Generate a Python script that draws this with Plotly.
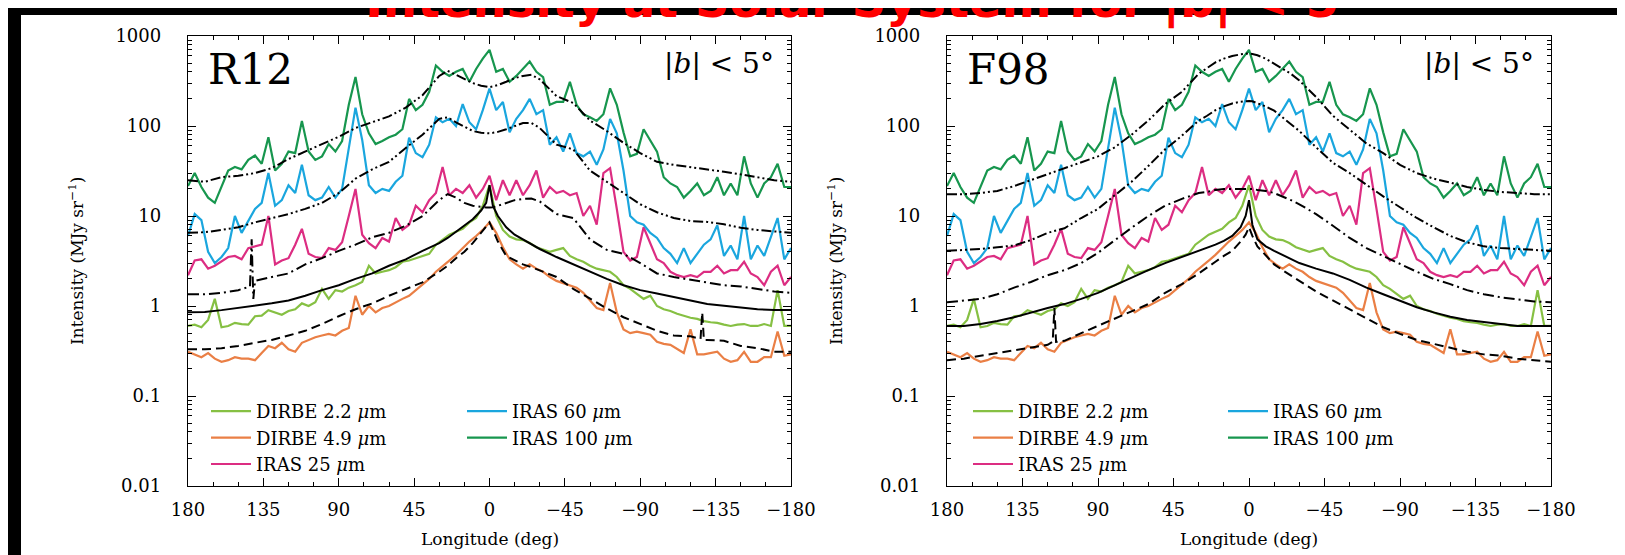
import plotly.graph_objects as go

# ---------------- data ----------------
LON = [180 - 4 * i for i in range(91)]  # galactic longitude grid of the observed profiles

DIRBE_22 = [0.6, 0.62, 0.58, 0.7, 1.2, 0.58, 0.6, 0.65, 0.63, 0.62,
            0.77, 0.78, 0.9, 0.85, 0.8, 0.88, 0.92, 1.07, 1.0, 1.1,
            1.55, 1.2, 1.5, 1.45, 1.6, 1.7, 1.85, 2.8, 2.3, 2.4,
            2.5, 2.7, 3.1, 3.2, 3.4, 3.6, 3.8, 4.8, 5.5, 6.2,
            6.7, 7.2, 8.5, 9.5, 13, 22,
            10, 7, 5.9, 5.5, 5.4, 5.0, 4.5, 4.2, 4.0, 4.2,
            4.4, 3.6, 3.3, 3.1, 2.8, 2.6, 2.5, 2.4, 2.1, 1.7,
            1.55, 1.35, 1.2, 1.3, 1.0, 0.92, 0.88, 0.82, 0.78, 0.74,
            0.72, 0.68, 0.66, 0.65, 0.62, 0.6, 0.62, 0.63, 0.6, 0.6,
            0.63, 0.6, 1.5, 0.6, 0.6]

DIRBE_49 = [0.31, 0.29, 0.27, 0.3, 0.26, 0.24, 0.25, 0.27, 0.26, 0.26,
            0.25, 0.3, 0.36, 0.34, 0.39, 0.33, 0.31, 0.39, 0.42, 0.45,
            0.47, 0.49, 0.47, 0.53, 0.57, 1.3, 0.8, 1.0, 0.85, 0.95,
            1.0, 1.1, 1.2, 1.3, 1.5, 1.7, 2.0, 2.4, 2.8, 3.2,
            3.7, 4.4, 5.2, 6.0, 7.0, 8.5,
            6.5, 4.5, 3.3, 2.9, 2.6, 2.9, 2.6, 2.4, 2.1, 1.9,
            1.8, 1.7, 1.6, 1.4, 1.15, 0.95, 0.9, 1.8, 0.85, 0.55,
            0.5, 0.52, 0.5, 0.48, 0.4, 0.38, 0.37, 0.33, 0.3, 0.55,
            0.29, 0.29, 0.3, 0.31, 0.26, 0.24, 0.25, 0.31, 0.24, 0.24,
            0.27, 0.27, 0.52, 0.28, 0.29]

IRAS_25 = [2.2, 3.2, 3.3, 2.6, 2.8, 3.1, 3.5, 3.6, 3.3, 4.4,
           4.6, 4.8, 10, 2.9, 3.2, 3.4, 4.8, 7.2, 3.8, 3.5,
           3.4, 4.4, 4.2, 5.1, 10, 20, 6.2, 5, 4.4, 5.7,
           5.2, 9.5, 7, 8, 13, 11, 15, 18, 35, 17,
           20, 18, 22, 16, 20, 28,
           15, 25, 17, 25, 17, 22, 32, 16, 21, 18,
           19, 17, 18, 10, 13, 8, 30, 34, 12, 4,
           3.2, 3.5, 7.5, 5, 3.3, 3.0, 2.4, 2.2, 2.1, 2.2,
           2.1, 2.4, 2.4, 2.8, 2.3, 2.5, 2.5, 3.1, 2.3, 2.1,
           1.7, 2.4, 2.8, 1.7, 2.1]

IRAS_60 = [6, 10.5, 9, 4, 3, 3.5, 4.4, 10, 6.5, 9,
           12, 14, 30, 13, 15, 22, 18, 37, 17, 15,
           16, 21, 16, 20, 60, 160, 70, 22, 18, 20,
           19, 24, 28, 74, 50, 45, 62, 125, 110, 120,
           100, 175, 110, 92, 150, 260,
           150, 185, 85, 120, 150, 200, 135, 150, 62, 75,
           52, 83, 50, 46, 52, 37, 55, 120, 83, 32,
           10, 8.5, 8, 6.5, 5.7, 4.4, 3.8, 3.0, 4.4, 3.0,
           3.8, 4.8, 5.5, 7.9, 3.6, 4.7, 3.3, 10, 3.3, 4.7,
           3.6, 6, 9.5, 3.3, 4.4]

IRAS_100 = [21.5, 30, 21, 16, 14, 21, 32, 35, 33, 42,
            47, 38, 75, 32, 38, 52, 50, 114, 52, 42,
            46, 63, 52, 68, 172, 350, 135, 83, 63, 68,
            75, 80, 92, 200, 150, 172, 240, 470, 400, 360,
            400, 430, 310, 430, 560, 700,
            400, 430, 310, 360, 430, 520, 400, 350, 172, 185,
            185, 310, 172, 135, 125, 114, 135, 262, 172, 85,
            46, 49, 92, 68, 52, 27, 23, 21, 16, 19,
            23, 17, 19, 27, 17, 23, 17, 46, 23, 16,
            23, 27, 38, 21, 21]

# model curves (black), sampled on their own longitude grid
MODEL_LON = [180, 170, 160, 150, 140, 130, 120, 110, 100, 90, 80, 70, 60, 50, 40,
             30, 25, 20, 15, 10, 5, 2, 0, -2, -5, -10, -15, -20, -25, -30,
             -40, -50, -60, -70, -80, -90, -100, -110, -120, -130, -140, -150, -160, -170, -180]

R12_M22 = [0.85, 0.86, 0.9, 0.95, 1.0, 1.07, 1.15, 1.3, 1.5, 1.7, 2.0, 2.3, 2.8, 3.3, 4.1,
           5.0, 5.7, 6.7, 7.8, 9.2, 11.5, 14, 22, 13, 10, 7.5, 6.2, 5.5, 4.8, 4.3,
           3.5, 2.9, 2.4, 2.0, 1.7, 1.5, 1.38, 1.25, 1.15, 1.05, 1.0, 0.95, 0.92, 0.9, 0.9]
R12_M49 = [0.33, 0.33, 0.34, 0.36, 0.39, 0.42, 0.47, 0.53, 0.63, 0.77, 0.92, 1.07, 1.3, 1.55, 1.83,
           2.4, 2.8, 3.4, 4.0, 5.0, 6.5, 7.5, 8.5, 7, 5.2, 3.6, 3.2, 2.9, 2.7, 2.5,
           2.1, 1.55, 1.2, 0.94, 0.75, 0.63, 0.53, 0.47, 0.46, 0.42, 0.41, 0.36, 0.34, 0.31, 0.31]
R12_M25 = [1.35, 1.35, 1.4, 1.5, 1.9, 2.1, 2.3, 2.9, 3.4, 4.1, 4.8, 5.8, 6.5, 7.8, 10,
           15, 17.5, 16, 14, 13, 12.5, 12.4, 12.4, 12.5, 13, 14, 15, 15.5, 15.6, 14.5,
           10.5, 9.5, 5.5, 4.2, 3.8, 3.0, 2.3, 2.1, 1.95, 1.83, 1.7, 1.65, 1.55, 1.45, 1.4]
R12_M60 = [6.5, 6.6, 7.0, 7.5, 8.5, 9.5, 10.5, 12, 14, 18, 26, 33, 40, 57, 80,
           120, 125, 110, 98, 88, 84, 83, 83, 84, 86, 92, 100, 108, 108, 95,
           62, 55, 32, 24, 18, 13.5, 11, 9.5, 8.8, 8.6, 8.1, 7.4, 7.0, 6.7, 6.5]
R12_M100 = [25, 24, 27, 28, 30, 34, 43, 52, 63, 76, 95, 110, 128, 160, 220,
            360, 410, 370, 330, 300, 280, 272, 270, 275, 285, 310, 340, 360, 370, 330,
            215, 180, 115, 88, 65, 50, 40, 37, 35, 33, 31, 29, 27, 25, 24]

F98_M22 = [0.6, 0.6, 0.63, 0.68, 0.75, 0.85, 0.95, 1.05, 1.2, 1.4, 1.7, 2.1, 2.5, 3.0, 3.5,
           4.1, 4.4, 4.8, 5.3, 6.0, 7.5, 10, 15, 8, 5.5, 4.6, 4.1, 3.7, 3.3, 3.0,
           2.6, 2.3, 1.95, 1.6, 1.35, 1.15, 0.97, 0.85, 0.76, 0.7, 0.66, 0.63, 0.6, 0.6, 0.6]
F98_M49 = [0.25, 0.26, 0.28, 0.3, 0.32, 0.34, 0.37, 0.41, 0.5, 0.6, 0.72, 0.86, 1.05, 1.4, 1.75,
           2.3, 2.7, 3.1, 3.6, 4.1, 5.2, 6.2, 7.5, 6, 4.6, 3.6, 2.9, 2.5, 2.2, 1.9,
           1.45, 1.15, 0.92, 0.72, 0.58, 0.49, 0.42, 0.38, 0.34, 0.31, 0.29, 0.28, 0.26, 0.25, 0.24]
F98_M25 = [1.1, 1.15, 1.2, 1.35, 1.6, 1.85, 2.2, 2.5, 3.0, 3.9, 5.4, 7.4, 10, 13, 15.5,
           18, 18.5, 19.5, 20, 20, 20, 20, 20, 20, 19.5, 19, 18, 16.5, 15, 13.5,
           10.5, 7.8, 5.7, 4.4, 3.6, 2.9, 2.4, 2.0, 1.75, 1.5, 1.35, 1.25, 1.18, 1.12, 1.1]
F98_M60 = [4.1, 4.2, 4.3, 4.5, 4.7, 5.4, 6.5, 7.3, 9.5, 12, 17, 24, 36, 55, 78,
           115, 130, 150, 165, 178, 186, 189, 190, 188, 180, 165, 148, 125, 105, 88,
           58, 39, 30, 22, 16.5, 12.5, 9.5, 7.5, 6, 5.1, 4.6, 4.4, 4.3, 4.2, 4.1]
F98_M100 = [17.5, 17.5, 18, 19, 21.5, 25, 29, 34, 40, 46, 58, 80, 115, 175, 240,
            380, 440, 510, 560, 600, 625, 635, 640, 630, 610, 560, 490, 430, 380, 320,
            210, 130, 92, 64, 50, 37, 30, 26, 23.5, 21, 19.5, 18.5, 18, 17.5, 17.5]

# narrow spikes present in some model curves (longitude, value)
R12_M25_SPIKE_LON = [143, 142, 141]
R12_M25_SPIKE_VAL = [1.65, 5.5, 1.2]
R12_M49_SPIKE_LON = [-126, -127, -128]
R12_M49_SPIKE_VAL = [0.43, 0.85, 0.42]
F98_M49_SPIKE_LON = [117, 116, 115]
F98_M49_SPIKE_VAL = [0.4, 0.95, 0.4]

SERIES_NAMES = ["DIRBE 2.2 <i>μ</i>m", "DIRBE 4.9 <i>μ</i>m", "IRAS 25 <i>μ</i>m",
                "IRAS 60 <i>μ</i>m", "IRAS 100 <i>μ</i>m"]
SERIES_DATA = [DIRBE_22, DIRBE_49, IRAS_25, IRAS_60, IRAS_100]
SERIES_COLORS = ["#86c043", "#ea7f45", "#dc2d82", "#1aa6de", "#17964e"]

XTICKS = [180, 135, 90, 45, 0, -45, -90, -135, -180]
XTICKTEXT = ["180", "135", "90", "45", "0", "−45", "−90", "−135", "−180"]
YTICKS = [0.01, 0.1, 1, 10, 100, 1000]
YTICKTEXT = ["0.01", "0.1", "1", "10", "100", "1000"]


def with_spike(lon, val, slon, sval):
    pts = sorted(zip(list(lon) + list(slon), list(val) + list(sval)), key=lambda p: -p[0])
    return [p[0] for p in pts], [p[1] for p in pts]


# --------------- figure ---------------
W, H = 1625, 555
SERIF = "DejaVu Serif"
DASH_49 = "9px,5px"
DASH_25 = "11px,4px,2px,4px"
DASH_60 = "10px,3px,2px,3px,2px,3px"

fig = go.Figure()

panels = [
    dict(xa="x", ya="y", leg=("legend", "legend2"), label="R12",
         models=[(R12_M22, "solid", None), (with_spike(MODEL_LON, R12_M49, R12_M49_SPIKE_LON, R12_M49_SPIKE_VAL), DASH_49, True),
                 (with_spike(MODEL_LON, R12_M25, R12_M25_SPIKE_LON, R12_M25_SPIKE_VAL), DASH_25, True),
                 (R12_M60, DASH_60, None), (R12_M100, DASH_60, None)]),
    dict(xa="x2", ya="y2", leg=("legend3", "legend4"), label="F98",
         models=[(F98_M22, "solid", None), (with_spike(MODEL_LON, F98_M49, F98_M49_SPIKE_LON, F98_M49_SPIKE_VAL), DASH_49, True),
                 (F98_M25, DASH_25, None), (F98_M60, DASH_60, None), (F98_M100, DASH_60, None)]),
]

for p in panels:
    for k, (name, vals, col) in enumerate(zip(SERIES_NAMES, SERIES_DATA, SERIES_COLORS)):
        fig.add_trace(go.Scatter(
            x=LON, y=vals, mode="lines", name=name,
            line=dict(color=col, width=2.2),
            xaxis=p["xa"], yaxis=p["ya"],
            legend=p["leg"][0] if k < 3 else p["leg"][1],
            showlegend=True, hoverinfo="skip"))
    for m, dash, spiked in p["models"]:
        if spiked:
            xs, ys = m
        else:
            xs, ys = MODEL_LON, m
        fig.add_trace(go.Scatter(
            x=xs, y=ys, mode="lines", showlegend=False,
            line=dict(color="black", width=2.0, dash=dash),
            xaxis=p["xa"], yaxis=p["ya"], hoverinfo="skip"))

xminor = [v for v in range(-165, 180, 15) if v % 45 != 0]
yminor = [k * 10 ** e for e in range(-2, 3) for k in range(2, 10)]

px_l = [(180, 783), (939, 1543)]
top_px, bot_px = 28, 478
ydom = [(H - bot_px) / H, (H - top_px) / H]

for i, (x0, x1) in enumerate(px_l):
    sfx = "" if i == 0 else "2"
    fig.update_layout(**{
        "xaxis" + sfx: dict(
            domain=[x0 / W, x1 / W], range=[180, -180], anchor="y" + sfx,
            tickmode="array", tickvals=XTICKS, ticktext=XTICKTEXT,
            ticks="inside", ticklen=8, tickwidth=1.2, tickcolor="black",
            mirror="allticks", showline=True, linecolor="black", linewidth=1.4,
            showgrid=False, zeroline=False, automargin=False,
            minor=dict(tickvals=xminor, ticks="inside", ticklen=4, tickcolor="black", showgrid=False),
            tickfont=dict(family=SERIF, size=18, color="black"), ticklabelstandoff=7,
        ),
        "yaxis" + sfx: dict(
            domain=ydom, type="log", range=[-2, 3], anchor="x" + sfx,
            tickmode="array", tickvals=YTICKS, ticktext=YTICKTEXT,
            ticks="inside", ticklen=8, tickwidth=1.2, tickcolor="black",
            mirror="allticks", showline=True, linecolor="black", linewidth=1.4,
            showgrid=False, zeroline=False, automargin=False,
            minor=dict(tickvals=yminor, ticks="inside", ticklen=4, tickcolor="black", showgrid=False),
            tickfont=dict(family=SERIF, size=18, color="black"), ticklabelstandoff=22,
        ),
    })

# legends: two columns per panel
leg_common = dict(bgcolor="rgba(0,0,0,0)", borderwidth=0, yanchor="top", xanchor="left",
                  font=dict(family=SERIF, size=18, color="black"), tracegroupgap=0,
                  itemwidth=40, traceorder="normal")
leg_y = (H - 385) / H
fig.update_layout(
    legend=dict(x=198 / W, y=leg_y, **leg_common),
    legend2=dict(x=454 / W, y=leg_y, **leg_common),
    legend3=dict(x=960 / W, y=leg_y, **leg_common),
    legend4=dict(x=1215 / W, y=leg_y, **leg_common),
)

annotations = []
for i, p in enumerate(panels):
    xa = p["xa"]
    annotations.append(dict(text=p["label"], xref=xa + " domain", yref=p["ya"] + " domain",
                            x=0.03, y=0.925, xanchor="left", yanchor="middle", showarrow=False,
                            font=dict(family=SERIF, size=42, color="black")))
    annotations.append(dict(text="|<i>b</i>| < 5°", xref=xa + " domain", yref=p["ya"] + " domain",
                            x=0.975, y=0.94, xanchor="right", yanchor="middle", showarrow=False,
                            font=dict(family=SERIF, size=28, color="black")))
    x0, x1 = px_l[i]
    annotations.append(dict(text="Longitude (deg)", xref="paper", yref="paper",
                            x=(x0 + x1) / 2 / W, y=(H - 531) / H, xanchor="center", yanchor="middle",
                            showarrow=False, font=dict(family=SERIF, size=17, color="black")))
    annotations.append(dict(text="Intensity (MJy sr<sup>−1</sup>)", xref="paper", yref="paper",
                            x=(x0 - 112) / W, y=(H - 253) / H, xanchor="center", yanchor="middle",
                            textangle=-90, showarrow=False,
                            font=dict(family=SERIF, size=17, color="black")))

annotations.append(dict(text="<b>Intensity at Solar System for |b| < 5°</b>", xref="paper", yref="paper",
                        x=856 / W, y=(H - 23) / H, xanchor="center", yanchor="bottom", showarrow=False,
                        font=dict(family="DejaVu Sans", size=48, color="#ff0000")))

fig.update_layout(
    width=W, height=H, autosize=False, margin=dict(l=0, r=0, t=0, b=0, pad=0, autoexpand=False),
    paper_bgcolor="black", plot_bgcolor="white",
    annotations=annotations,
    shapes=[dict(type="rect", xref="paper", yref="paper", x0=13 / W, x1=1612 / W, y0=0, y1=(H - 7) / H,
                 fillcolor="white", line=dict(width=0), layer="below")],
)

fig.write_html("out.html")
